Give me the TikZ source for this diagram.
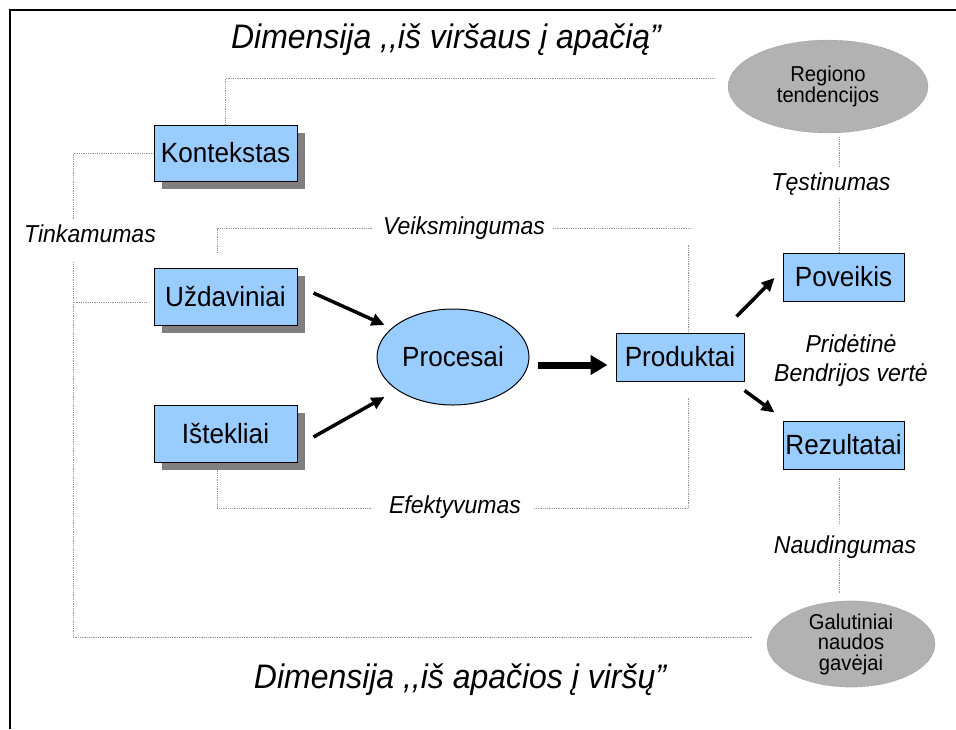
\documentclass[tikz,border=0pt]{standalone}
\usepackage{fontspec}
\setmainfont{Liberation Sans}[FakeStretch=0.94]
\usepackage{xcolor}
\usepackage{tikz}
\usetikzlibrary{arrows.meta,positioning,shapes.geometric,shadows,calc}
\definecolor{boxblue}{RGB}{153,204,255}
\definecolor{shadowgray}{RGB}{128,128,128}
\definecolor{ovalgray}{RGB}{178,178,178}
\definecolor{guidegray}{RGB}{150,150,150}

\tikzset{
  stage/.style={draw, line width=1pt, fill=boxblue, inner sep=0pt, font=\fontsize{27.8}{30}\selectfont},
  shadowed/.style={drop shadow={shadow xshift=8pt, shadow yshift=-8pt, fill=shadowgray, opacity=1}},
  oval/.style={ellipse, draw=black!55, densely dotted, fill=ovalgray, inner sep=0pt, align=center, font=\fontsize{21.5}{20.5}\selectfont},
  quality/.style={inner sep=0pt, font=\itshape\fontsize{24.5}{29}\selectfont},
  heading/.style={inner sep=0pt, font=\itshape\fontsize{34}{36}\selectfont},
  guide/.style={draw=guidegray, densely dotted, line width=0.8pt},
  flow/.style={line width=3.5pt, -{Triangle[length=13pt,width=12pt]}},
  bigflow/.style={line width=7pt, -{Triangle[length=17pt,width=19pt]}}
}

\begin{document}
\begin{tikzpicture}[x=1pt, y=-1pt]
  \useasboundingbox (0,0) rectangle (956,729);
  \draw[line width=2.5pt] (10,729) -- (10,10) -- (956,10);

  % headings
  \node[heading, anchor=base] (top) at (446,48) {Dimensija ,{},iš viršaus į apačią”};
  \node[heading, anchor=base] (bot) at (460,688) {Dimensija ,{},iš apačios į viršų”};

  % boxes
  \node[stage, shadowed, minimum width=143pt, minimum height=56pt] (kont) at (225.5,153) {Kontekstas};
  \node[stage, shadowed, minimum width=143pt, minimum height=57pt] (uzd) at (225.5,296.5) {Uždaviniai};
  \node[stage, shadowed, minimum width=143pt, minimum height=57pt] (ist) at (225.5,433.5) {Ištekliai};
  \node[stage, ellipse, minimum width=152pt, minimum height=96pt] (proc) at (453,357) {Procesai};
  \node[stage, minimum width=128pt, minimum height=48pt] (prod) at (680,357) {Produktai};
  \node[stage, minimum width=121pt, minimum height=48pt] (pov) at (843.5,277) {Poveikis};
  \node[stage, minimum width=121pt, minimum height=48pt] (rez) at (843.5,445) {Rezultatai};
  \node[oval, minimum width=200pt, minimum height=93pt] (reg) at (828,86.5) {Regiono\\tendencijos};
  \node[oval, minimum width=168pt, minimum height=78pt] (gav) at (851,644) {Galutiniai\\naudos\\gavėjai};

  % criteria
  \node[quality, anchor=base] (tnk) at (90,242) {Tinkamumas};
  \node[quality, anchor=base] (veik) at (464,234) {Veiksmingumas};
  \node[quality, anchor=base] (efek) at (455,513) {Efektyvumas};
  \node[quality, anchor=base] (test) at (831,190) {Tęstinumas};
  \node[quality, anchor=base] (naud) at (845,553) {Naudingumas};
  \node[quality, align=center] (prid) at (851,361) {Pridėtinė\\Bendrijos vertė};

  % dotted guides
  \draw[guide] (kont.north) |- ([xshift=-13pt,yshift=8.5pt]reg.west);
  \draw[guide] (kont.west) -| ([xshift=-17pt,yshift=4pt]tnk.north);
  \draw[guide] ([xshift=-17pt,yshift=-20pt]tnk.south) |- ([xshift=-14pt,yshift=7pt]gav.west);
  \draw[guide] ([xshift=-7pt,yshift=-5.5pt]uzd.west) -- ++(-74,0);
  \draw[guide] ([xshift=-8.5pt,yshift=15pt]uzd.north) |- ([xshift=-10pt,yshift=-1pt]veik.west);
  \draw[guide] ([xshift=8pt,yshift=-1pt]veik.east) -- ++(137,0);
  \draw[guide] ([xshift=8pt,yshift=88pt]prod.north) -- ([xshift=8pt]prod.north);
  \draw[guide] ([xshift=-8.5pt,yshift=-7pt]ist.south) |- ([xshift=-17pt,yshift=-2pt]efek.west);
  \draw[guide] ([xshift=13pt,yshift=-2pt]efek.east) -| ([xshift=8pt,yshift=-16pt]prod.south);
  \draw[guide] ([xshift=11pt,yshift=-4pt]reg.south) -- ([xshift=8pt,yshift=5pt]test.north);
  \draw[guide] ([xshift=8pt,yshift=-3pt]test.south) -- ([xshift=-4.5pt]pov.north);
  \draw[guide] ([xshift=-4.5pt,yshift=-8pt]rez.south) -- ([xshift=-6pt,yshift=11pt]naud.north);
  \draw[guide] ([xshift=-6pt,yshift=0pt]naud.south) -- ([xshift=-12pt,yshift=8pt]gav.north);

  % arrows
  \draw[flow] ($(uzd.east)+(16,-3.5)$) -- ($(proc.west)+(8,-32)$);
  \draw[flow] ($(ist.east)+(16,3.5)$) -- ($(proc.west)+(8,40)$);
  \draw[bigflow] ($(proc.east)+(8,8)$) -- ($(prod.west)+(-8,8)$);
  \draw[flow] ($(prod.north east)+(-8,-16)$) -- ($(pov.west)+(-8,1)$);
  \draw[flow] ($(prod.south east)+(0,9)$) -- ($(rez.north west)+(-8,-8)$);
\end{tikzpicture}
\end{document}
